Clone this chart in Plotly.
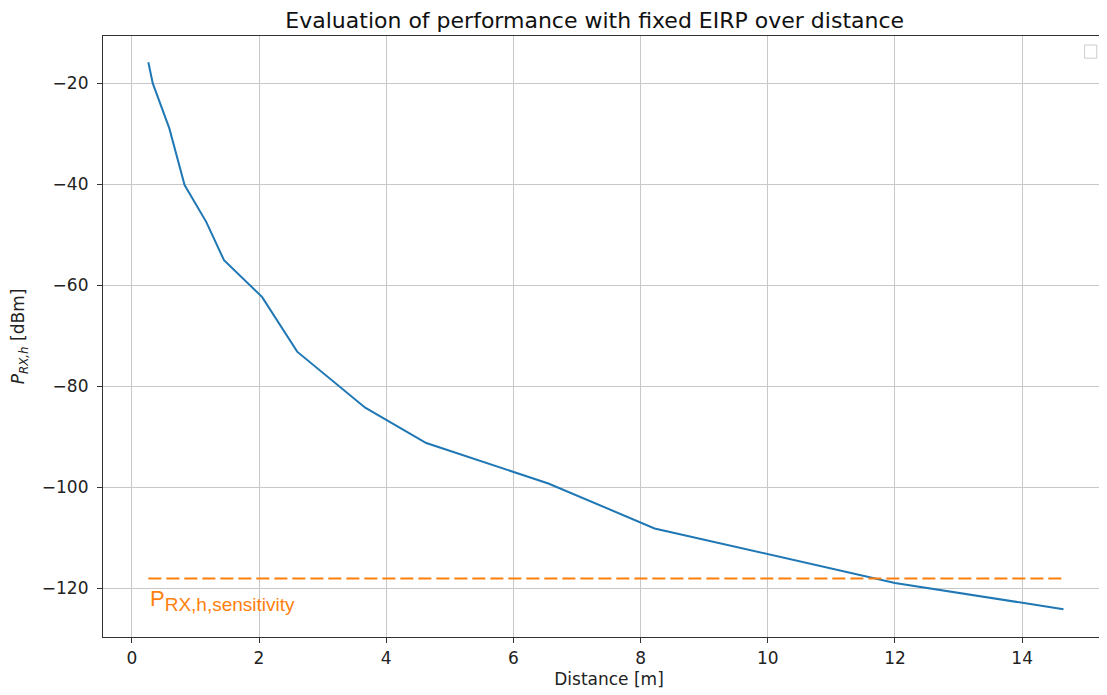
import plotly.graph_objects as go

distance = [0.26, 0.33, 0.59, 0.83, 1.17, 1.45, 2.05, 2.60, 3.67, 4.63, 6.55, 8.22, 12.0, 14.65]
p_rx = [-15.8, -20.0, -28.9, -40.1, -47.4, -55.0, -62.3, -73.1, -84.2, -91.2, -99.2, -108.1, -118.9, -124.1]
sensitivity = -118.0
x_ticks = [0, 2, 4, 6, 8, 10, 12, 14]
y_ticks = [-20, -40, -60, -80, -100, -120]

font_family = "DejaVu Sans, Liberation Sans, sans-serif"

fig = go.Figure()
fig.add_trace(go.Scatter(x=distance, y=p_rx, mode="lines",
                         line=dict(color="#1f77b4", width=2), showlegend=False))
fig.add_trace(go.Scatter(x=[distance[0], distance[-1]], y=[sensitivity, sensitivity], mode="lines",
                         line=dict(color="#ff7f0e", width=2, dash="13px,5px"), showlegend=False))

fig.add_annotation(x=distance[0], y=sensitivity, xref="x", yref="y",
                   text="P<sub><span style='font-size:19px'>RX,h,sensitivity</span></sub>",
                   showarrow=False, xanchor="left", yanchor="top", yshift=-6, xshift=0,
                   font=dict(family="Liberation Sans, Arial, sans-serif", size=22, color="#ff7f0e"))

# empty legend box (as in reference)
fig.add_shape(type="rect", xref="paper", yref="paper",
              x0=0.970, x1=0.982, y0=0.963, y1=0.985,
              line=dict(color="#cccccc", width=1), fillcolor="white")

fig.update_layout(
    width=1107, height=695,
    margin=dict(l=95, r=0, t=28, b=66, autoexpand=False),
    paper_bgcolor="white", plot_bgcolor="white",
    font=dict(family=font_family, size=17, color="#222222"),
    title=dict(text="Evaluation of performance with fixed EIRP over distance",
               x=0.530, xanchor="center", xref="container", y=0.983, yanchor="middle",
               yref="container", automargin=False,
               font=dict(size=22, color="#111111")),
    xaxis=dict(range=[-0.453, 15.46], tickvals=x_ticks, showgrid=True, automargin=False,
               gridcolor="#c8c8c8", gridwidth=1, zeroline=False,
               showline=True, linecolor="#333333", linewidth=1.2, mirror=True,
               ticks="outside", ticklen=5, tickcolor="#333333",
               title=dict(text="Distance [m]", standoff=6, font=dict(size=17))),
    yaxis=dict(range=[-129.6, -10.6], tickvals=y_ticks, showgrid=True, automargin=False,
               gridcolor="#c8c8c8", gridwidth=1, zeroline=False,
               showline=True, linecolor="#333333", linewidth=1.2, mirror=False,
               ticks="outside", ticklen=5, tickcolor="#333333", ticklabelstandoff=5,
               title=dict(text="<i>P</i><sub><i>RX,h</i></sub> [dBm]", standoff=13, font=dict(size=17))),
)

fig.write_html("out.html")
